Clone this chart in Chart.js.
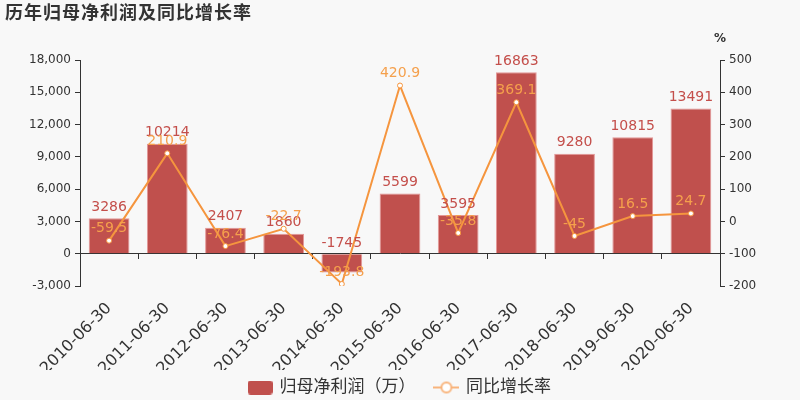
<!DOCTYPE html>
<html>
<head>
<meta charset="utf-8">
<script src="https://cdn.jsdelivr.net/npm/chart.js@4/dist/chart.umd.min.js"></script>
<style>
  html, body { margin: 0; padding: 0; background: #f8f8f8; }
  #wrap { width: 800px; height: 400px; }
</style>
</head>
<body>
<div id="wrap"><canvas id="c" width="800" height="400"></canvas></div>
<script>
// ---------- data ----------
const years  = ['2010-06-30','2011-06-30','2012-06-30','2013-06-30','2014-06-30','2015-06-30',
                '2016-06-30','2017-06-30','2018-06-30','2019-06-30','2020-06-30'];
const profit = [3286, 10214, 2407, 1860, -1745, 5599, 3595, 16863, 9280, 10815, 13491];
const growth = [-59.5, 210.9, -76.4, -22.7, -193.8, 420.9, -35.8, 369.1, -45, 16.5, 24.7];
const leftTicks  = { min: -3000, max: 18000, step: 3000 };
const rightTicks = { min: -200,  max: 500,   step: 100 };

const FONT = '"DejaVu Sans", "Noto Sans CJK SC", sans-serif';
const RED = '#c0504d', ORANGE = '#f5953e', ORANGE_TXT = '#f5a04c', AXIS = '#333';

// legend icons
function barIcon() {
  const c = document.createElement('canvas'); c.width = 25; c.height = 14;
  const g = c.getContext('2d');
  g.fillStyle = RED; g.beginPath(); g.roundRect(0, 0, 25, 14, 3); g.fill();
  return c;
}
function lineIcon() {
  const c = document.createElement('canvas'); c.width = 26; c.height = 14;
  const g = c.getContext('2d');
  g.strokeStyle = '#f8b47c'; g.lineWidth = 2;
  g.beginPath(); g.moveTo(0, 7); g.lineTo(26, 7); g.stroke();
  g.fillStyle = '#fff'; g.beginPath(); g.arc(13, 7, 5, 0, Math.PI * 2); g.fill(); g.stroke();
  return c;
}

// ---------- plugins ----------
const extras = {
  id: 'extras',
  afterDatasetsDraw(chart) {
    const ctx = chart.ctx;
    ctx.save();
    ctx.font = '14px ' + FONT;
    ctx.textAlign = 'center';
    ctx.textBaseline = 'bottom';
    // bar labels
    ctx.fillStyle = '#c44f4b';
    chart.getDatasetMeta(0).data.forEach((el, i) => {
      ctx.fillText(String(profit[i]), el.x, Math.min(el.y, el.base) - 4);
    });
    // line labels
    ctx.fillStyle = ORANGE_TXT;
    chart.getDatasetMeta(1).data.forEach((el, i) => {
      ctx.fillText(String(growth[i]), el.x, el.y - 5);
    });
    ctx.restore();
  },
  afterDraw(chart) {
    const ctx = chart.ctx;
    ctx.save();
    ctx.fillStyle = AXIS;
    ctx.textBaseline = 'middle';
    ctx.font = 'bold 18px ' + FONT;
    ctx.letterSpacing = '1px';
    ctx.fillText('历年归母净利润及同比增长率', 5, 14);
    ctx.letterSpacing = '0px';
    ctx.font = 'bold 12px ' + FONT;
    ctx.textAlign = 'center';
    ctx.fillText('%', chart.chartArea.right, 39);
    ctx.restore();
  }
};

// ---------- chart ----------
new Chart(document.getElementById('c'), {
  type: 'bar',
  data: {
    labels: years,
    datasets: [
      { type: 'bar', label: '归母净利润（万）', data: profit, yAxisID: 'y', order: 2,
        backgroundColor: RED, borderColor: 'rgba(225,140,140,0.9)', borderWidth: 1,
        barPercentage: 0.7, categoryPercentage: 1 },
      { type: 'line', label: '同比增长率', data: growth, yAxisID: 'y1', order: 1,
        borderColor: ORANGE, borderWidth: 2, tension: 0,
        pointRadius: 2.5, pointBackgroundColor: '#fff', pointBorderColor: ORANGE, pointBorderWidth: 1 }
    ]
  },
  options: {
    responsive: false,
    animation: false,
    layout: { padding: { top: 60, left: 0, right: 0, bottom: -6 } },
    plugins: {
      tooltip: { enabled: false },
      legend: {
        position: 'bottom',
        labels: {
          usePointStyle: true,
          pointStyleWidth: 22,
          padding: 9,
          color: AXIS,
          font: { size: 17, family: FONT },
          generateLabels: () => [
            { text: '归母净利润（万）  ', pointStyle: barIcon(), fontColor: AXIS, lineWidth: 0, datasetIndex: 0 },
            { text: '同比增长率', pointStyle: lineIcon(), fontColor: AXIS, lineWidth: 0, datasetIndex: 1 }
          ]
        }
      }
    },
    scales: {
      x: {
        type: 'category', position: 'bottom', offset: true,
        grid: { display: false, offset: true },
        border: { display: false },
        ticks: { minRotation: 45, maxRotation: 45, autoSkip: false, padding: 5,
                 color: AXIS, font: { size: 16, family: FONT } },
        afterFit(s) { s.height = 84; }
      },
      xz: {
        type: 'category', axis: 'x', position: { y: 0 }, offset: true,
        grid: { drawOnChartArea: false, drawTicks: true, tickLength: 5, color: AXIS, offset: true },
        border: { display: true, color: AXIS },
        ticks: { display: false }
      },
      y: {
        position: 'left', min: leftTicks.min, max: leftTicks.max,
        ticks: { stepSize: leftTicks.step, color: AXIS, font: { size: 12, family: FONT }, padding: 4,
                 callback: v => v.toLocaleString('en-US') },
        grid: { drawOnChartArea: false, drawTicks: true, tickLength: 5, color: AXIS },
        border: { display: true, color: AXIS },
        afterFit(s) { s.width = 80; }
      },
      y1: {
        position: 'right', min: rightTicks.min, max: rightTicks.max,
        ticks: { stepSize: rightTicks.step, color: AXIS, font: { size: 12, family: FONT }, padding: 4 },
        grid: { drawOnChartArea: false, drawTicks: true, tickLength: 5, color: AXIS },
        border: { display: true, color: AXIS },
        afterFit(s) { s.width = 80; }
      }
    }
  },
  plugins: [extras]
});
</script>
</body>
</html>
